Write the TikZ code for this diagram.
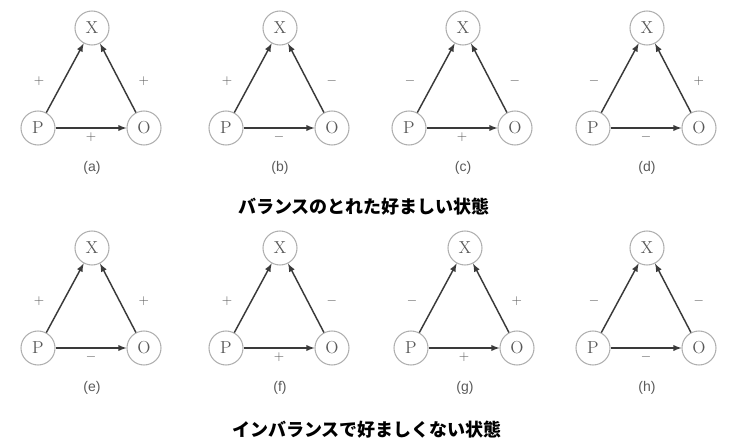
\documentclass[tikz,border=0pt]{standalone}
\usepackage{fontspec}
\newfontfamily\jpfont{Noto Sans CJK JP}
\newfontfamily\tagfont{Liberation Sans}
\definecolor{ringgray}{HTML}{B0B0B0}
\definecolor{inkgray}{HTML}{5A5A5A}
\definecolor{arrowgray}{HTML}{3A3A3A}
\tikzset{
  ring/.style={circle, draw=ringgray, line width=0.8pt, minimum size=25.5pt,
    inner sep=0pt, text=inkgray, font=\fontsize{13}{13}\selectfont},
  link/.style={-latex, draw=arrowgray, line width=1.1pt},
  sign/.style={text=inkgray, inner sep=1pt, font=\fontsize{10}{10}\selectfont},
  tag/.style={text=inkgray, font=\tagfont\fontsize{10.5}{10.5}\selectfont},
  caption/.style={font=\jpfont\bfseries\fontsize{13.5}{14}\selectfont}
}
\begin{document}
\begin{tikzpicture}[x=0.75pt,y=-0.75pt]

\useasboundingbox (0,0) rectangle (733,443);

% Triangles P-O-X
\foreach \n/\x/\y/\px/\ox/\po in {
  a/92/0/+/+/+, b/280/0/+/-/-, c/463/0/-/-/+, d/647/0/-/+/-,
  e/92/220/+/+/-, f/280/220/+/-/+, g/465/220/-/+/+, h/647/220/-/-/-}
{
  \node[ring] (X-\n) at (\x,28+\y) {X};
  \node[ring] (P-\n) at (\x-54,128+\y) {P};
  \node[ring] (O-\n) at (\x+52,128+\y) {O};

  \draw[link] (P-\n) -- node[sign, left=14pt, yshift=-2pt] {$\px$} (X-\n);
  \draw[link] (O-\n) -- node[sign, right=14pt, yshift=-2pt] {$\ox$} (X-\n);
  \draw[link] (P-\n) -- node[sign, below=2pt] {$\po$} (O-\n);

  \node[tag] (T-\n) at (\x,168+\y) {(\n)};
}

% Captions
\node[caption] (bal) at (364,207) {バランスのとれた好ましい状態};
\node[caption] (imbal) at (367,430) {インバランスで好ましくない状態};

\end{tikzpicture}
\end{document}
